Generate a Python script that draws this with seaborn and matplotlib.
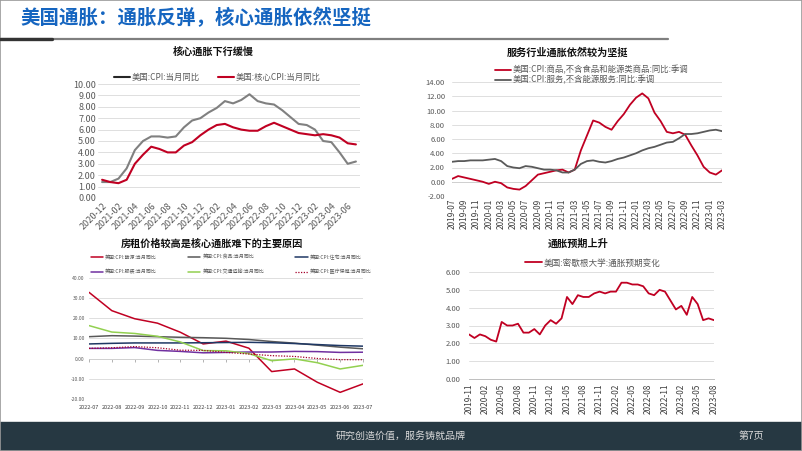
import numpy as np
import pandas as pd
import seaborn as sns
import matplotlib.pyplot as plt
from matplotlib.lines import Line2D
from matplotlib.patches import Rectangle

# ========== DATA ==========
# 核心通胀下行缓慢
core_months = pd.period_range("2020-12", "2023-07", freq="M").strftime("%Y-%m").tolist()
cpi_yoy = [1.4, 1.4, 1.7, 2.6, 4.2, 5.0, 5.4, 5.4, 5.3, 5.4, 6.2, 6.8, 7.0,
           7.5, 7.9, 8.5, 8.3, 8.6, 9.1, 8.5, 8.3, 8.2, 7.7, 7.1, 6.5,
           6.4, 6.0, 5.0, 4.9, 4.0, 3.0, 3.2]
core_cpi_yoy = [1.6, 1.4, 1.3, 1.6, 3.0, 3.8, 4.5, 4.3, 4.0, 4.0, 4.6, 4.9, 5.5,
                6.0, 6.4, 6.5, 6.2, 6.0, 5.9, 5.9, 6.3, 6.6, 6.3, 6.0, 5.7,
                5.6, 5.5, 5.6, 5.5, 5.3, 4.8, 4.7]

# 服务行业通胀依然较为坚挺
svc_months = pd.period_range("2019-07", "2023-03", freq="M").strftime("%Y-%m").tolist()
goods_ex = [0.4, 0.8, 0.6, 0.4, 0.2, 0.0, -0.3, 0.0, -0.2, -0.8, -1.0, -1.1, -0.6,
            0.2, 1.0, 1.2, 1.4, 1.6, 1.7, 1.3, 1.7, 4.4, 6.5, 8.6, 8.3, 7.7, 7.3,
            8.5, 9.5, 10.8, 11.8, 12.4, 11.7, 9.7, 8.5, 7.0, 6.8, 7.0, 6.6, 5.1,
            3.7, 2.1, 1.3, 1.0, 1.6]
services_ex = [2.8, 2.9, 2.9, 3.0, 3.0, 3.0, 3.1, 3.2, 2.9, 2.2, 2.0, 1.9, 2.2,
               2.1, 1.9, 1.7, 1.7, 1.6, 1.3, 1.3, 1.7, 2.5, 2.9, 3.0, 2.8, 2.7,
               2.9, 3.2, 3.4, 3.7, 4.0, 4.4, 4.7, 4.9, 5.2, 5.5, 5.6, 6.1, 6.7,
               6.7, 6.8, 7.0, 7.2, 7.3, 7.1]

# 房租价格较高是核心通胀难下的主要原因
rent_months = pd.period_range("2022-07", "2023-07", freq="M").strftime("%Y-%m").tolist()
energy = [32.9, 23.8, 19.8, 17.6, 13.1, 7.3, 8.7, 5.2, -6.4, -5.1, -11.7, -16.7, -12.5]
food = [10.9, 11.4, 11.2, 10.9, 10.6, 10.4, 10.1, 9.5, 8.5, 7.7, 6.7, 5.7, 4.9]
housing = [7.3, 7.6, 7.8, 7.8, 7.8, 7.9, 8.0, 8.1, 7.9, 7.5, 7.0, 6.5, 6.2]
apparel = [5.1, 5.1, 5.5, 4.1, 3.6, 2.9, 3.1, 3.3, 3.3, 3.6, 3.5, 3.1, 3.2]
transport = [16.4, 13.2, 12.5, 11.1, 8.3, 4.0, 3.9, 2.5, -1.0, -0.1, -2.0, -5.1, -3.3]
medical = [5.1, 5.4, 6.0, 5.4, 4.2, 4.1, 3.1, 2.3, 1.5, 1.1, 0.1, -0.5, -0.5]

# 通胀预期上升
mich_months = pd.period_range("2019-11", "2023-08", freq="M").strftime("%Y-%m").tolist()
mich_exp = [2.5, 2.3, 2.5, 2.4, 2.2, 2.1, 3.2, 3.0, 3.0, 3.1, 2.6, 2.6, 2.8, 2.5,
            3.0, 3.3, 3.1, 3.4, 4.6, 4.2, 4.7, 4.6, 4.6, 4.8, 4.9, 4.8,
            4.9, 4.9, 5.4, 5.4, 5.3, 5.3, 5.2, 4.8, 4.7, 5.0, 4.9, 4.4,
            3.9, 4.1, 3.6, 4.6, 4.2, 3.3, 3.4, 3.3]

RED = "#C00022"
GRID = "#d9d9d9"
TXT = "#595959"

sns.set_style("white")
plt.rcParams["font.family"] = ["Noto Sans CJK SC", "DejaVu Sans"]

W, H = 802, 451
fig = plt.figure(figsize=(8.02, 4.51), dpi=100)


def px_axes(x0, y0, x1, y1):
    # pixel box (top origin) -> axes
    return fig.add_axes([x0 / W, 1 - y1 / H, (x1 - x0) / W, (y1 - y0) / H])


def style(ax, yticks, fs, pad):
    ax.set_ylim(yticks[0], yticks[-1])
    ax.set_yticks(yticks)
    ax.set_yticklabels([f"{v:.2f}" for v in yticks])
    ax.grid(axis="y", color=GRID, lw=0.6)
    ax.grid(axis="x", visible=False)
    for s in ax.spines.values():
        s.set_visible(False)
    ax.tick_params(axis="y", length=0, labelsize=fs, labelcolor=TXT, pad=pad)


def title(x, y, s):
    fig.text(x / W, 1 - y / H, s, fontsize=7.3, fontweight="bold", ha="center", va="center", color="#111111")


# ========== PANEL 1 ==========
ax1 = px_axes(98, 84, 360, 198)
x1 = np.arange(len(core_months))
sns.lineplot(x=x1, y=cpi_yoy, ax=ax1, color="#808080", lw=1.5, label="美国:CPI:当月同比")
sns.lineplot(x=x1, y=core_cpi_yoy, ax=ax1, color=RED, lw=1.5, label="美国:核心CPI:当月同比")
style(ax1, np.arange(0, 11, 1.0), 6.5, 1.5)
ax1.set_xlim(-0.5, len(core_months) - 0.5)
ax1.set_xticks(x1[::2])
ax1.set_xticklabels(core_months[::2], rotation=45, ha="right", rotation_mode="anchor")
ax1.tick_params(axis="x", length=0, labelsize=6.5, labelcolor=TXT, pad=2)
leg = ax1.legend(loc="center", bbox_to_anchor=(217 / W, 1 - 77 / H), bbox_transform=fig.transFigure,
                 ncol=2, frameon=False, fontsize=6, handlelength=1.9, handletextpad=0.2,
                 columnspacing=2.2, borderpad=0)
leg.get_lines()[0].set_color("#262626")
for t in leg.get_texts():
    t.set_color(TXT)
title(213, 52, "核心通胀下行缓慢")

# ========== PANEL 2 ==========
ax2 = px_axes(452, 82, 722, 196)
x2 = np.arange(len(svc_months))
sns.lineplot(x=x2, y=goods_ex, ax=ax2, color=RED, lw=1.3, label="美国:CPI:商品,不含食品和能源类商品:同比:季调")
sns.lineplot(x=x2, y=services_ex, ax=ax2, color="#595959", lw=1.3, label="美国:CPI:服务,不含能源服务:同比:季调")
style(ax2, np.arange(-2, 15, 2.0), 5.5, 5)
ax2.axhline(0, color="#a6a6a6", lw=0.7, zorder=0)
ax2.set_xlim(0, len(svc_months) - 1)
ax2.set_xticks(x2[::2])
ax2.set_xticklabels(svc_months[::2], rotation=90, ha="center", va="top")
ax2.tick_params(axis="x", length=0, labelsize=6, labelcolor="#404040", pad=2)
leg = ax2.legend(loc="center left", bbox_to_anchor=(491 / W, 1 - 75 / H), bbox_transform=fig.transFigure,
                 frameon=False, fontsize=6, handlelength=1.9, handletextpad=0.2, labelspacing=0.1, borderpad=0)
for t in leg.get_texts():
    t.set_color(TXT)
title(568, 53, "服务行业通胀依然较为坚挺")

# ========== PANEL 3 ==========
ax3 = px_axes(89, 278, 363, 399)
x3 = np.arange(len(rent_months))
sns.lineplot(x=x3, y=energy, ax=ax3, color=RED, lw=1.1, label="美国:CPI:能源:当月同比")
sns.lineplot(x=x3, y=food, ax=ax3, color="#595959", lw=1.1, label="美国:CPI:食品:当月同比")
sns.lineplot(x=x3, y=housing, ax=ax3, color="#1F3864", lw=1.1, label="美国:CPI:住宅:当月同比")
sns.lineplot(x=x3, y=apparel, ax=ax3, color="#7030A0", lw=1.1, label="美国:CPI:服装:当月同比")
sns.lineplot(x=x3, y=transport, ax=ax3, color="#92D050", lw=1.1, label="美国:CPI:交通运输:当月同比")
sns.lineplot(x=x3, y=medical, ax=ax3, color="#A5002A", lw=0.9, ls=(0, (1, 1.2)), label="美国:CPI:医疗保健:当月同比")
style(ax3, np.arange(-20, 41, 10.0), 3.6, 3)
ax3.set_xlim(0, len(rent_months) - 1)
ax3.set_xticks(x3)
ax3.set_xticklabels(rent_months)
ax3.tick_params(axis="x", length=0, labelsize=4, labelcolor="#404040", pad=4)
zero = ax3.secondary_xaxis(1 / 3)
zero.set_xticks(x3)
zero.set_xticklabels([])
zero.tick_params(length=2, color="#a6a6a6", width=0.6)
zero.spines["bottom"].set_color("#a6a6a6")
zero.spines["bottom"].set_linewidth(0.7)
h, l = ax3.get_legend_handles_labels()
order = [0, 3, 1, 4, 2, 5]
leg = ax3.legend([h[i] for i in order], [l[i] for i in order], loc="center left",
                 bbox_to_anchor=(88 / W, 1 - 264.5 / H), bbox_transform=fig.transFigure,
                 ncol=3, frameon=False, fontsize=3.6, handlelength=2.5, handletextpad=0.4,
                 columnspacing=6.2, labelspacing=1.9, borderpad=0)
for t in leg.get_texts():
    t.set_color(TXT)
title(212, 244, "房租价格较高是核心通胀难下的主要原因")

# ========== PANEL 4 ==========
ax4 = px_axes(469, 272, 714, 379)
x4 = np.arange(len(mich_months))
sns.lineplot(x=x4, y=mich_exp, ax=ax4, color=RED, lw=1.3, label="美国:密歇根大学:通胀预期变化")
style(ax4, np.arange(0, 7, 1.0), 5.5, 6)
ax4.set_xlim(0, len(mich_months) - 1)
ax4.spines["bottom"].set_visible(True)
ax4.spines["bottom"].set_color("#bfbfbf")
ax4.spines["bottom"].set_linewidth(0.7)
ax4.set_xticks(x4[::3])
ax4.set_xticklabels(mich_months[::3], rotation=90, ha="center", va="top")
ax4.tick_params(axis="x", length=2, color="#bfbfbf", width=0.6, labelsize=6, labelcolor="#404040", pad=1.5)
leg = ax4.legend(loc="center left", bbox_to_anchor=(521 / W, 1 - 263 / H), bbox_transform=fig.transFigure,
                 frameon=False, fontsize=6.2, handlelength=1.9, handletextpad=0.2, borderpad=0)
for t in leg.get_texts():
    t.set_color(TXT)
title(578, 244, "通胀预期上升")

# ========== SLIDE DECORATION ==========
fig.text(20 / W, 1 - 18 / H, "美国通胀：通胀反弹，核心通胀依然坚挺", fontsize=14, fontweight="bold",
         color="#1565C0", va="center", ha="left")
fig.add_artist(Line2D([0, 668 / W], [1 - 38.5 / H] * 2, color="#7f7f7f", lw=1.6))
fig.add_artist(Line2D([0, 52 / W], [1 - 38.5 / H] * 2, color="#333333", lw=2.4))
fig.add_artist(Rectangle((0, 0), 1, 29 / H, transform=fig.transFigure, color="#263842", zorder=0))
fig.add_artist(Rectangle((0, 0), 1, 1, transform=fig.transFigure, fill=False, edgecolor="#9a9a9a", lw=1.2))
fig.text(401 / W, 1 - 436 / H, "研究创造价值，服务铸就品牌", fontsize=7.2, color="#d9d9d9", ha="center", va="center")
fig.text(751 / W, 1 - 436 / H, "第7页", fontsize=7.2, color="#d9d9d9", ha="center", va="center")

plt.savefig("out.png", dpi=100)
